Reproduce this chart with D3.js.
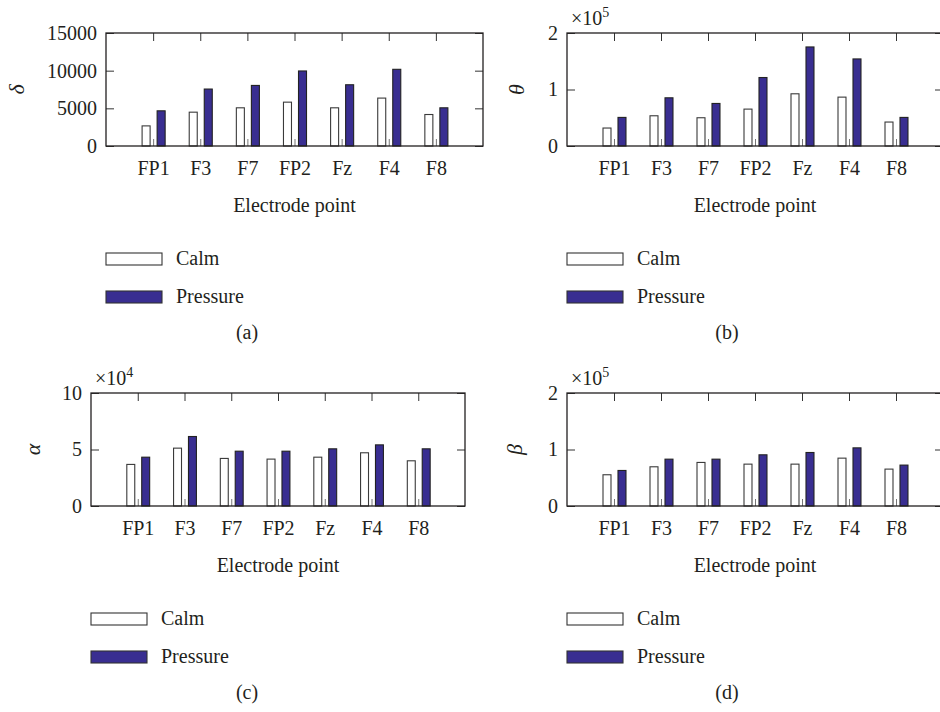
<!DOCTYPE html>
<html>
<head>
<meta charset="utf-8">
<script src="https://cdn.jsdelivr.net/npm/d3@7"></script>
<style>
  html, body { margin: 0; padding: 0; background: #fff; }
  svg { display: block; }
  svg text { font-family: "Liberation Serif", "DejaVu Serif", serif !important; fill: #231f20; }
</style>
</head>
<body>
<svg id="chart" width="940" height="712"></svg>
<script>
// ---- data ----
const categories = ["FP1", "F3", "F7", "FP2", "Fz", "F4", "F8"];
const seriesNames = ["Calm", "Pressure"];

const deltaCalm     = [2670, 4490, 5070, 5820, 5070, 6360, 4180];
const deltaPressure = [4670, 7560, 8040, 9960, 8130, 10180, 5070];

const thetaCalm     = [31800, 53500, 50000, 65300, 92400, 86500, 42400];
const thetaPressure = [50600, 85300, 75300, 121200, 175300, 154100, 50600];

const alphaCalm     = [36800, 51200, 42100, 41500, 43200, 47100, 40000];
const alphaPressure = [43200, 61500, 48500, 48500, 50600, 54100, 50600];

const betaCalm      = [55300, 69400, 77100, 74100, 74100, 84700, 65300];
const betaPressure  = [62900, 82900, 82900, 90600, 94700, 102900, 72400];

const deltaTicks = [0, 5000, 10000, 15000];
const thetaTicks = [0, 100000, 200000];
const alphaTicks = [0, 50000, 100000];
const betaTicks  = [0, 100000, 200000];

const panels = [
  { sym: "δ", label: "(a)", calm: deltaCalm, press: deltaPressure, ticks: deltaTicks, max: 15000, mult: 1, exp: null,
    left: 106, top: 33, w: 377, symX: 24, tagX: 247 },
  { sym: "θ", label: "(b)", calm: thetaCalm, press: thetaPressure, ticks: thetaTicks, max: 200000, mult: 1e5, exp: "5",
    left: 567, top: 33, w: 376, symX: 524, tagX: 727 },
  { sym: "α", label: "(c)", calm: alphaCalm, press: alphaPressure, ticks: alphaTicks, max: 100000, mult: 1e4, exp: "4",
    left: 91, top: 393, w: 374, symX: 40, tagX: 247 },
  { sym: "β", label: "(d)", calm: betaCalm, press: betaPressure, ticks: betaTicks, max: 200000, mult: 1e5, exp: "5",
    left: 567, top: 393, w: 376, symX: 522, tagX: 727 }
];

const H = 113;
const FS = 20;
const FONT = '"Liberation Serif", "DejaVu Serif", serif';
const blue = "#392e91";
const svg = d3.select("#chart");

panels.forEach(p => {
  const g = svg.append("g").attr("font-family", FONT);
  const x = d3.scaleLinear().domain([0, 8]).range([p.left, p.left + p.w]);
  const y = d3.scaleLinear().domain([0, p.max]).range([p.top + H, p.top]);
  const unit = x(1) - x(0);
  const bw = unit * 0.17;

  const fmt = d => p.mult === 1 ? String(d) : String(d / p.mult);

  // bars
  categories.forEach((c, i) => {
    const cx = x(i + 1);
    g.append("rect")
      .attr("x", cx - unit * 0.234).attr("width", bw)
      .attr("y", y(p.calm[i])).attr("height", y(0) - y(p.calm[i]))
      .attr("fill", "#fff").attr("stroke", "#3a3a3a").attr("stroke-width", 1.1);
    g.append("rect")
      .attr("x", cx + unit * 0.085).attr("width", bw)
      .attr("y", y(p.press[i])).attr("height", y(0) - y(p.press[i]))
      .attr("fill", blue).attr("stroke", "#222").attr("stroke-width", 1.1);
  });

  // axes
  const xt = d3.range(1, 8);
  const axL = g.append("g").attr("transform", `translate(${p.left},0)`)
    .call(d3.axisLeft(y).tickValues(p.ticks).tickFormat(fmt).tickSizeInner(-8).tickSizeOuter(0).tickPadding(9));
  const axR = g.append("g").attr("transform", `translate(${p.left + p.w},0)`)
    .call(d3.axisRight(y).tickValues(p.ticks).tickFormat("").tickSizeInner(-8).tickSizeOuter(0));
  const axT = g.append("g").attr("transform", `translate(0,${p.top})`)
    .call(d3.axisTop(x).tickValues(xt).tickFormat("").tickSizeInner(-8).tickSizeOuter(0));
  const axB = g.append("g").attr("transform", `translate(0,${p.top + H})`)
    .call(d3.axisBottom(x).tickValues(xt).tickFormat((d) => categories[d - 1]).tickSizeInner(-7).tickSizeOuter(0).tickPadding(15));

  [axL, axR, axT, axB].forEach(a => {
    a.attr("font-family", FONT).attr("font-size", FS);
    a.select(".domain").remove();
    a.selectAll("line").attr("stroke", "#333").attr("stroke-width", 1);
    a.selectAll("text").attr("fill", "#231f20");
  });
  axB.selectAll("line").attr("stroke", "#777");

  // frame
  g.append("rect").attr("x", p.left).attr("y", p.top).attr("width", p.w).attr("height", H)
    .attr("fill", "none").attr("stroke", "#231f20").attr("stroke-width", 1.3);

  // y label
  g.append("text")
    .attr("transform", `translate(${p.symX},${p.top + H / 2}) rotate(-90)`)
    .attr("text-anchor", "middle").attr("font-size", FS + 2).attr("font-style", "italic")
    .text(p.sym);

  // exponent
  if (p.exp) {
    const t = g.append("text").attr("x", p.left + 4).attr("y", p.top - 8).attr("font-size", FS);
    t.append("tspan").text("×10");
    t.append("tspan").attr("dy", -8).attr("font-size", 14).text(p.exp);
  }

  // x label
  g.append("text").attr("x", p.left + p.w / 2).attr("y", p.top + H + 66)
    .attr("text-anchor", "middle").attr("font-size", FS).text("Electrode point");

  // legend
  seriesNames.forEach((s, k) => {
    const ry = p.top + H + 107 + k * 38;
    g.append("rect").attr("x", p.left).attr("y", ry).attr("width", 56).attr("height", 12)
      .attr("fill", k === 0 ? "#fff" : blue).attr("stroke", "#333").attr("stroke-width", 1.1);
    g.append("text").attr("x", p.left + 70).attr("y", ry + 12).attr("font-size", FS).text(s);
  });

  // panel tag
  g.append("text").attr("x", p.tagX).attr("y", p.top + H + 193)
    .attr("text-anchor", "middle").attr("font-size", FS).text(p.label);
});
</script>
</body>
</html>
